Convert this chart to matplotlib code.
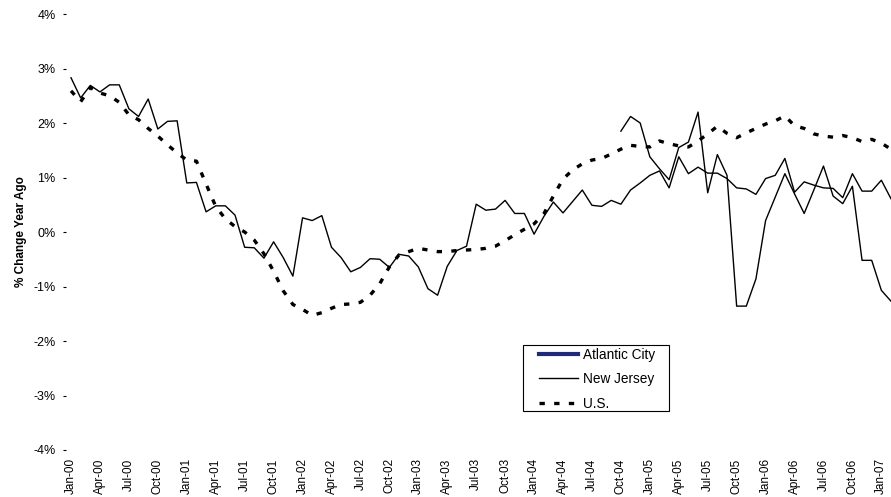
import numpy as np
import pandas as pd
import matplotlib
matplotlib.use('Agg')
import matplotlib.pyplot as plt
from matplotlib.lines import Line2D
from matplotlib.patches import Rectangle

plt.rcParams['font.family'] = ['Liberation Sans', 'DejaVu Sans']

# monthly, Jan-00 .. Feb-07
months = pd.date_range('2000-01-01', periods=86, freq='MS').strftime('%b-%y').tolist()

new_jersey = [
    2.83, 2.46, 2.69, 2.57, 2.70, 2.70, 2.26, 2.12, 2.44, 1.89, 2.03, 2.04,
    0.90, 0.91, 0.37, 0.48, 0.48, 0.31, -0.28, -0.29, -0.48, -0.18, -0.47, -0.81,
    0.26, 0.21, 0.30, -0.28, -0.47, -0.73, -0.65, -0.49, -0.50, -0.65, -0.41, -0.44,
    -0.64, -1.04, -1.16, -0.63, -0.34, -0.26, 0.51, 0.40, 0.42, 0.58, 0.34, 0.34,
    -0.04, 0.28, 0.55, 0.35, 0.56, 0.77, 0.49, 0.47, 0.58, 0.51, 0.77, 0.90,
    1.04, 1.12, 0.81, 1.38, 1.07, 1.19, 1.08, 1.08, 0.98, 0.81, 0.79, 0.69,
    0.98, 1.04, 1.35, 0.73, 0.92, 0.86, 0.81, 0.80, 0.63, 1.07, 0.75, 0.75,
    0.95, 0.61,
]

us = [
    2.59, 2.39, 2.65, 2.55, 2.50, 2.38, 2.15, 2.06, 1.90, 1.76, 1.60, 1.45,
    1.32, 1.30, 0.88, 0.47, 0.24, 0.10, 0.00, -0.15, -0.40, -0.72, -1.08, -1.33,
    -1.42, -1.53, -1.48, -1.40, -1.33, -1.32, -1.29, -1.16, -0.95, -0.64, -0.42, -0.36,
    -0.30, -0.33, -0.36, -0.36, -0.34, -0.33, -0.32, -0.30, -0.26, -0.16, -0.05, 0.05,
    0.15, 0.33, 0.66, 0.97, 1.14, 1.25, 1.32, 1.35, 1.43, 1.52, 1.59, 1.57,
    1.56, 1.67, 1.62, 1.58, 1.56, 1.67, 1.80, 1.94, 1.81, 1.73, 1.82, 1.90,
    1.98, 2.04, 2.13, 1.95, 1.90, 1.80, 1.76, 1.74, 1.77, 1.73, 1.66, 1.70,
    1.63, 1.52,
]

# Atlantic City only starts in Oct-04
ac_start = 57
atlantic_city = [
    1.85, 2.12, 2.00, 1.38, 1.16, 0.96, 1.55, 1.65, 2.20, 0.72, 1.42, 1.04,
    -1.36, -1.36, -0.86, 0.21, 0.64, 1.07, 0.70, 0.34, 0.77, 1.21, 0.66, 0.52,
    0.84, -0.52, -0.52, -1.07, -1.27,
]

x = np.arange(len(months))
ac = np.full(len(months), np.nan)
ac[ac_start:ac_start + len(atlantic_city)] = atlantic_city

us_style = (0, (1.6, 2.8))
W, H = 891, 497

fig = plt.figure(figsize=(W / 100, H / 100), dpi=100)
ax = fig.add_axes([66 / W, 1 - 450 / H, 1 - 66 / W, (450 - 14) / H])

ax.plot(x, ac, color='black', linewidth=1.0)
ax.plot(x, new_jersey, color='black', linewidth=1.0)
ax.plot(x, us, color='black', linewidth=2.4, linestyle=us_style)

ax.set_xlim(-0.52, 85.0)
ax.set_ylim(-4, 4)

ax.set_yticks(np.arange(-4, 5, 1))
ax.set_yticklabels([f'{v}%' for v in range(-4, 5)], fontsize=9)
ax.set_xticks(x[::3])
ax.set_xticklabels(months[::3], rotation=90, fontsize=8.5, va='top')
ax.tick_params(axis='y', length=2.5, width=0.8, direction='out', pad=5)
ax.tick_params(axis='x', length=0, pad=6)

for s in ax.spines.values():
    s.set_visible(False)

ax.set_ylabel('% Change Year Ago', fontsize=8.5, fontweight='bold')
ax.yaxis.set_label_coords(-0.047, 0.5)

# legend entries (frame drawn separately)
handles = [
    Line2D([], [], color='#1f2a78', linewidth=3),
    Line2D([], [], color='black', linewidth=1.0),
    Line2D([], [], color='black', linewidth=2.4, linestyle=us_style),
]
leg = fig.legend(handles, ['Atlantic City', 'New Jersey', 'U.S.'],
                 loc='upper left', bbox_to_anchor=(539 / W, 1 - 347.5 / H),
                 fontsize=9.8, frameon=False, handlelength=2.9,
                 handletextpad=0.3, borderpad=0, labelspacing=0.78,
                 borderaxespad=0)
fig.patches.append(Rectangle((523 / W, 1 - 411 / H), 146 / W, 66 / H,
                             transform=fig.transFigure, fill=False,
                             edgecolor='black', linewidth=0.8))

fig.savefig('out.png', dpi=100)
